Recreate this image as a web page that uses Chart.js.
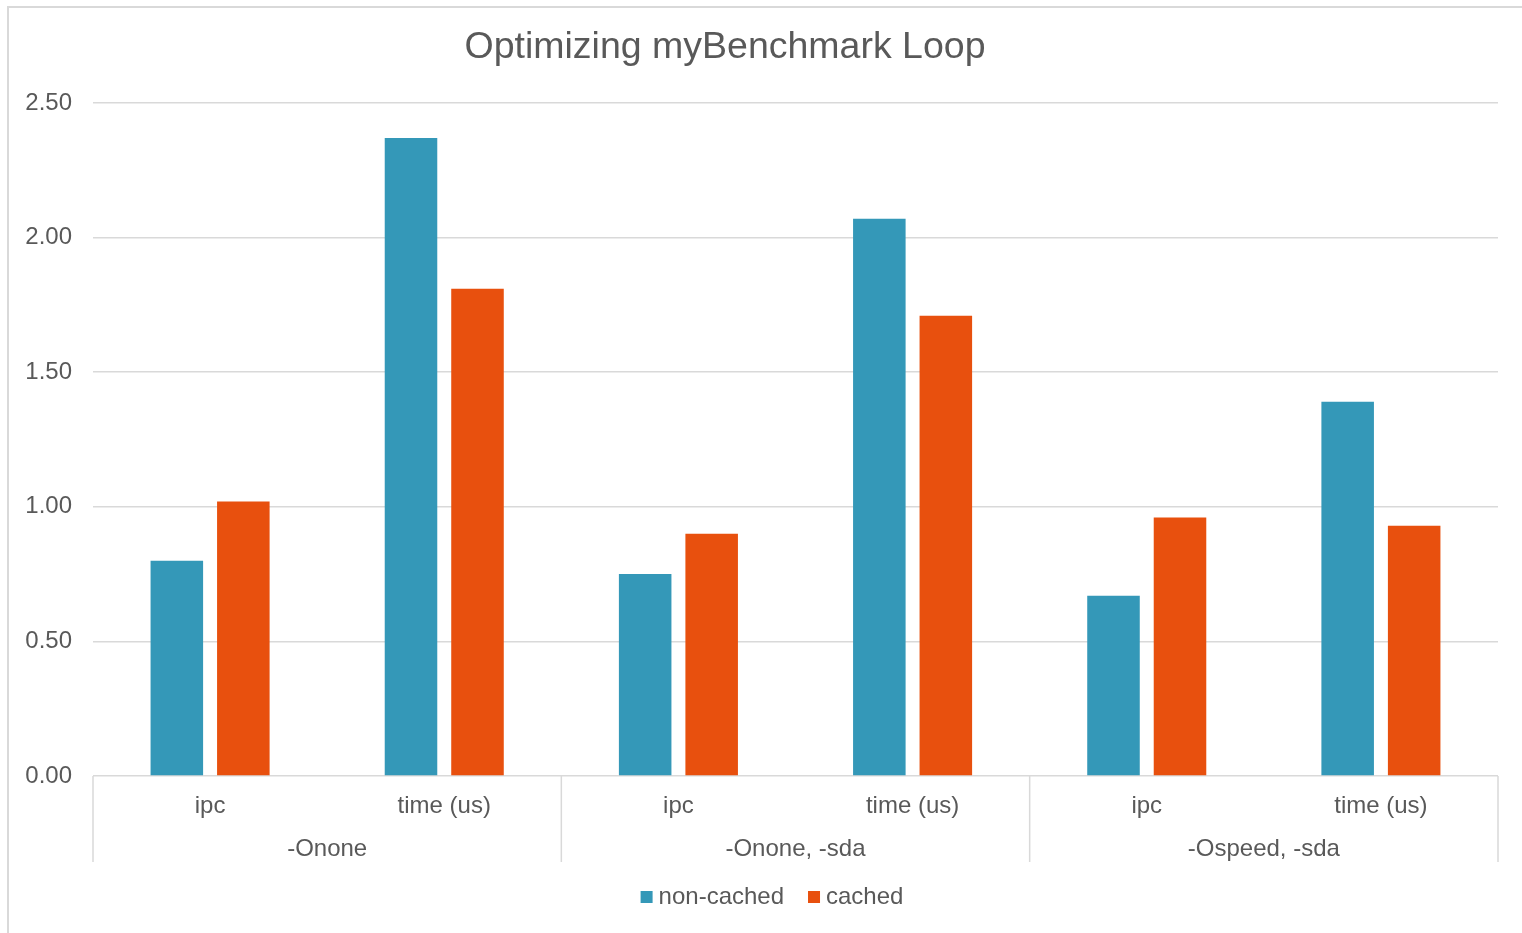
<!DOCTYPE html>
<html>
<head>
<meta charset="utf-8">
<title>Optimizing myBenchmark Loop</title>
<script src="https://cdn.jsdelivr.net/npm/chart.js@4/dist/chart.umd.min.js"></script>
<style>
  html, body { margin: 0; padding: 0; background: #ffffff; }
  #wrap { position: relative; width: 1522px; height: 933px; }
</style>
</head>
<body>
<div id="wrap"><canvas id="chart" width="1522" height="933"></canvas></div>
<script>
// Benchmark results: two metrics measured under three compiler settings
const groups = ['-Onone', '-Onone, -sda', '-Ospeed, -sda'];
const metrics = ['ipc', 'time (us)'];
const nonCached = [0.80, 2.37, 0.75, 2.07, 0.67, 1.39];
const cached = [1.02, 1.81, 0.90, 1.71, 0.96, 0.93];
const yTicks = [0, 0.5, 1.0, 1.5, 2.0, 2.5];

const chartTitle = 'Optimizing myBenchmark Loop';
const TEXT = '#595959';
const LINE = '#d9d9d9';
const FONT = "'Liberation Sans', Arial, sans-serif";

// one category per (group, metric) pair
const categories = [];
groups.forEach(() => metrics.forEach(m => categories.push(m)));

Chart.defaults.font.family = FONT;
Chart.defaults.color = TEXT;

// frame, title, group labels, group separators and the legend
const decorations = {
  id: 'decorations',
  beforeDraw(chart) {
    const ctx = chart.ctx;
    ctx.save();
    ctx.fillStyle = '#ffffff';
    ctx.fillRect(0, 0, chart.width, chart.height);
    ctx.strokeStyle = LINE;
    ctx.lineWidth = 2;
    ctx.strokeRect(8, 7, chart.width + 20, chart.height + 20);
    ctx.restore();
  },
  afterDraw(chart) {
    const ctx = chart.ctx;
    const x = chart.scales.x;
    const area = chart.chartArea;
    const per = metrics.length;
    ctx.save();
    // title
    ctx.fillStyle = TEXT;
    ctx.font = '37.5px ' + FONT;
    ctx.textAlign = 'center';
    ctx.textBaseline = 'middle';
    ctx.fillText(chartTitle, 725, 48);

    // separators between groups
    const half = (x.getPixelForTick(1) - x.getPixelForTick(0)) / 2;
    ctx.strokeStyle = LINE;
    ctx.lineWidth = 1.5;
    const yBottom = area.bottom + 86;
    for (let g = 0; g <= groups.length; g++) {
      const px = g === groups.length
        ? x.getPixelForTick(categories.length - 1) + half
        : x.getPixelForTick(g * per) - half;
      ctx.beginPath();
      ctx.moveTo(px, area.bottom);
      ctx.lineTo(px, yBottom);
      ctx.stroke();
    }
    // group labels
    ctx.font = '24px ' + FONT;
    groups.forEach((name, g) => {
      const l = x.getPixelForTick(g * per) - half;
      const r = x.getPixelForTick(g * per + per - 1) + half;
      ctx.fillText(name, (l + r) / 2, area.bottom + 73);
    });

    // legend: small square swatch followed by the series name
    const box = 12, gap = 6, between = 24;
    const items = chart.data.datasets.map(ds => ({
      text: ds.label, color: ds.backgroundColor,
      w: box + gap + ctx.measureText(ds.label).width
    }));
    const total = items.reduce((s, it) => s + it.w, 0) + between * (items.length - 1);
    let lx = 772 - total / 2;
    const ly = area.bottom + 121;
    ctx.textAlign = 'left';
    items.forEach(it => {
      ctx.fillStyle = it.color;
      ctx.fillRect(lx, ly - box / 2, box, box);
      ctx.fillStyle = TEXT;
      ctx.fillText(it.text, lx + box + gap, ly);
      lx += it.w + between;
    });
    ctx.restore();
  }
};

new Chart(document.getElementById('chart'), {
  type: 'bar',
  data: {
    labels: categories,
    datasets: [
      { label: 'non-cached', data: nonCached, backgroundColor: '#3498b8', borderWidth: 0,
        categoryPercentage: 0.568, barPercentage: 0.79 },
      { label: 'cached', data: cached, backgroundColor: '#e8500e', borderWidth: 0,
        categoryPercentage: 0.568, barPercentage: 0.79 }
    ]
  },
  options: {
    responsive: false,
    animation: false,
    layout: { padding: { top: 103, right: 24, bottom: 68, left: 0 } },
    plugins: {
      title: { display: false },
      tooltip: { enabled: false },
      legend: { display: false }
    },
    scales: {
      x: {
        grid: { display: false },
        border: { display: false },
        ticks: { font: { size: 24 }, color: TEXT, padding: 8, maxRotation: 0 },
        afterFit(scale) { scale.height = 89; }
      },
      y: {
        min: 0, max: 2.5,
        afterBuildTicks(scale) { scale.ticks = yTicks.map(v => ({ value: v })); },
        grid: { color: LINE, lineWidth: 1.5, drawTicks: false },
        border: { display: false },
        ticks: {
          font: { size: 24 }, color: TEXT, padding: 21,
          callback: v => Number(v).toFixed(2)
        },
        afterFit(scale) { scale.width = 93; }
      }
    }
  },
  plugins: [decorations]
});
</script>
</body>
</html>
